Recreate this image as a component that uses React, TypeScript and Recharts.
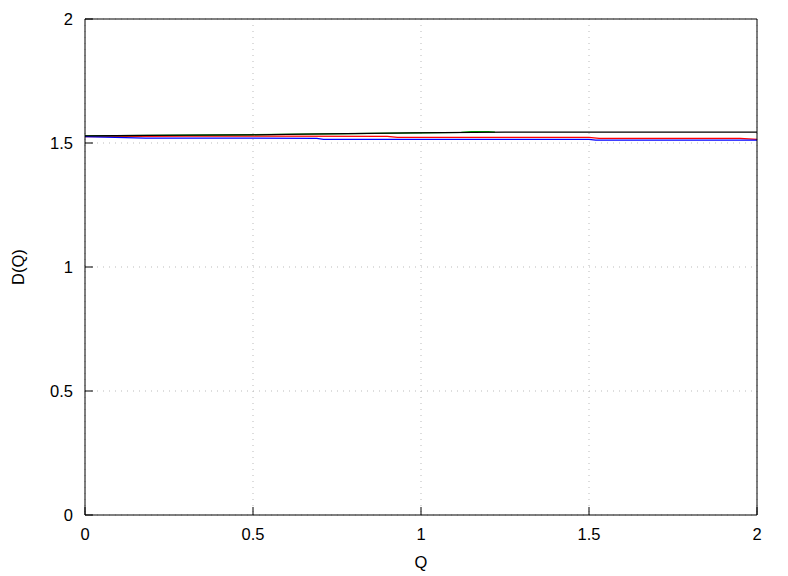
import React from "react";
import {
  CartesianGrid,
  Label,
  Line,
  LineChart,
  XAxis,
  YAxis,
} from "recharts";

// tick values for both axes
const qTicks = [0, 0.5, 1, 1.5, 2];
const dTicks = [0, 0.5, 1, 1.5, 2];

// D(Q) curves
const blackQ = [0, 0.18, 0.5, 0.65, 0.97, 1.25, 2];
const blackD = [1.529, 1.531, 1.533, 1.536, 1.541, 1.5435, 1.544];

const greenQ = [0, 0.2, 0.5, 0.8, 1.0, 1.12, 1.15, 1.2, 1.22];
const greenD = [1.529, 1.531, 1.534, 1.538, 1.541, 1.543, 1.546, 1.546, 1.5435];

const redQ = [0, 0.3, 0.9, 0.93, 1.5, 1.53, 1.95, 2];
const redD = [1.526, 1.528, 1.527, 1.523, 1.523, 1.519, 1.519, 1.515];

const blueQ = [0, 0.18, 0.69, 0.71, 1.5, 1.52, 2];
const blueD = [1.526, 1.52, 1.519, 1.515, 1.515, 1.5115, 1.5115];

const toRows = (q: number[], d: number[]) => q.map((v, i) => ({ q: v, d: d[i] }));

const FONT = "'Liberation Sans', Arial, sans-serif";
const FS = 16.5;
const TICK = 8;

const BottomTick = (props: any) => {
  const { x, y, payload } = props;
  return (
    <g>
      <line x1={x} y1={y} x2={x} y2={y - TICK} stroke="#000" />
      <text x={x} y={y + 25} textAnchor="middle" fontSize={FS} fontFamily={FONT} fill="#000">
        {payload.value}
      </text>
    </g>
  );
};

const TopTick = (props: any) => {
  const { x, y } = props;
  return <line x1={x} y1={y} x2={x} y2={y + TICK} stroke="#000" />;
};

const LeftTick = (props: any) => {
  const { x, y, payload } = props;
  return (
    <g>
      <line x1={x} y1={y} x2={x + TICK} y2={y} stroke="#000" />
      <text x={x - 12} y={y + 6} textAnchor="end" fontSize={FS} fontFamily={FONT} fill="#000">
        {payload.value}
      </text>
    </g>
  );
};

const RightTick = (props: any) => {
  const { x, y } = props;
  return <line x1={x} y1={y} x2={x - TICK} y2={y} stroke="#000" />;
};

const YTitle = (props: any) => {
  const { viewBox } = props;
  const cy = viewBox.y + viewBox.height / 2;
  return (
    <text
      x={18}
      y={cy}
      transform={`rotate(-90 18 ${cy})`}
      textAnchor="middle"
      dominantBaseline="central"
      fontSize={FS}
      fontFamily={FONT}
      fill="#000"
    >
      D(Q)
    </text>
  );
};

const XTitle = (props: any) => {
  const { viewBox } = props;
  const cx = viewBox.x + viewBox.width / 2;
  return (
    <text x={cx} y={568} textAnchor="middle" fontSize={FS} fontFamily={FONT} fill="#000">
      Q
    </text>
  );
};

const App = () => {
  return (
    <div style={{ position: "absolute", left: 0, top: 0, width: 788, height: 576, background: "#fff" }}>
      <LineChart width={788} height={576} margin={{ top: 18, right: 30, bottom: 0, left: 0 }}>
        <CartesianGrid stroke="#bbbbbb" strokeDasharray="1 5" />
        <XAxis
          type="number"
          dataKey="q"
          domain={[0, 2]}
          ticks={qTicks}
          interval={0}
          height={61}
          tickSize={0}
          tickMargin={0}
          tickLine={false}
          axisLine={{ stroke: "#000" }}
          tick={<BottomTick />}
        >
          <Label content={<XTitle />} />
        </XAxis>
        <XAxis
          xAxisId="top"
          orientation="top"
          type="number"
          dataKey="q"
          domain={[0, 2]}
          ticks={qTicks}
          interval={0}
          height={1}
          tickSize={0}
          tickMargin={0}
          tickLine={false}
          axisLine={{ stroke: "#000" }}
          tick={<TopTick />}
        />
        <YAxis
          type="number"
          domain={[0, 2]}
          ticks={dTicks}
          interval={0}
          width={85}
          tickSize={0}
          tickMargin={0}
          tickLine={false}
          axisLine={{ stroke: "#000" }}
          tick={<LeftTick />}
        >
          <Label content={<YTitle />} />
        </YAxis>
        <YAxis
          yAxisId="right"
          orientation="right"
          type="number"
          domain={[0, 2]}
          ticks={dTicks}
          interval={0}
          width={1}
          tickSize={0}
          tickMargin={0}
          tickLine={false}
          axisLine={{ stroke: "#000" }}
          tick={<RightTick />}
        />
        <Line data={toRows(redQ, redD)} dataKey="d" stroke="#ff0000" strokeWidth={1.2} dot={false} type="linear" isAnimationActive={false} />
        <Line data={toRows(greenQ, greenD)} dataKey="d" stroke="#00c000" strokeWidth={1.2} dot={false} type="linear" isAnimationActive={false} />
        <Line data={toRows(blueQ, blueD)} dataKey="d" stroke="#0000ff" strokeWidth={1.2} dot={false} type="linear" isAnimationActive={false} />
        <Line data={toRows(blackQ, blackD)} dataKey="d" stroke="#000000" strokeWidth={1.2} dot={false} type="linear" isAnimationActive={false} />
      </LineChart>
    </div>
  );
};

export default App;
